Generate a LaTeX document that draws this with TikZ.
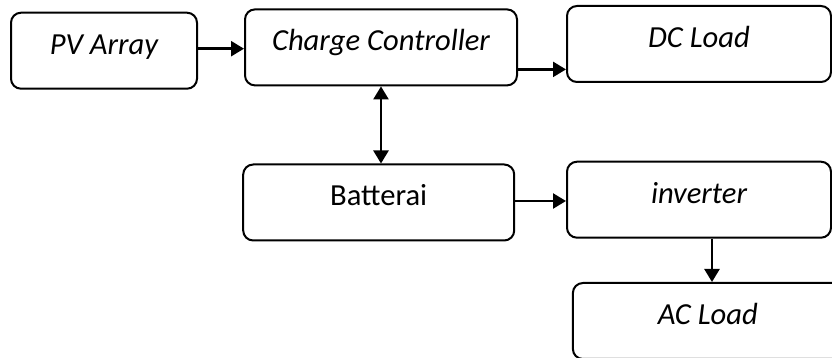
\documentclass[tikz,border=0pt]{standalone}
\usepackage{fontspec}
\setmainfont{Carlito}
\usetikzlibrary{arrows.meta}
\begin{document}
\begin{tikzpicture}[x=0.5pt,y=-0.5pt,
  blk/.style={draw=black, line width=1pt, rounded corners=5pt, fill=white,
    minimum height=38pt, text height=10pt, text depth=6.6pt, inner sep=0pt,
    font=\fontsize{15.3}{17}\selectfont\itshape},
  arr/.style={line width=1.2pt, -{Triangle[length=6.5pt,width=7.5pt]}},
  darr/.style={line width=1.2pt, {Triangle[length=6.5pt,width=7.5pt]}-{Triangle[length=6.5pt,width=7.5pt]}}]
\clip (0,0) rectangle (832,358);
\fill[white] (0,0) rectangle (832,358);
\node[blk, minimum width=93pt]  (pv)  at (104,50.7)  {PV Array};
\node[blk, minimum width=136pt] (cc)  at (381,47.4)  {Charge Controller};
\node[blk, minimum width=132pt] (dc)  at (699,44)    {DC Load};
\node[blk, minimum width=135.5pt, font=\fontsize{15.3}{17}\selectfont\upshape] (bat) at (378.7,202.5) {Batterai};
\node[blk, minimum width=132pt] (inv) at (699,199.7) {inverter};
\node[blk, minimum width=135pt] (ac)  at (707.9,321) {AC Load};
\draw[arr] (pv.east |- 0,48.7) -- (cc.west |- 0,48.7);
\draw[arr] ([yshift=-11pt]cc.east) coordinate (a1) -- (a1 -| dc.west);
\draw[darr] (cc.south) -- (cc.south |- bat.north);
\draw[arr] (bat.east |- 0,201) coordinate (a2) -- (a2 -| inv.west);
\draw[arr] ([xshift=6.5pt]inv.south) coordinate (a3) -- (a3 |- ac.north);
\end{tikzpicture}
\end{document}
